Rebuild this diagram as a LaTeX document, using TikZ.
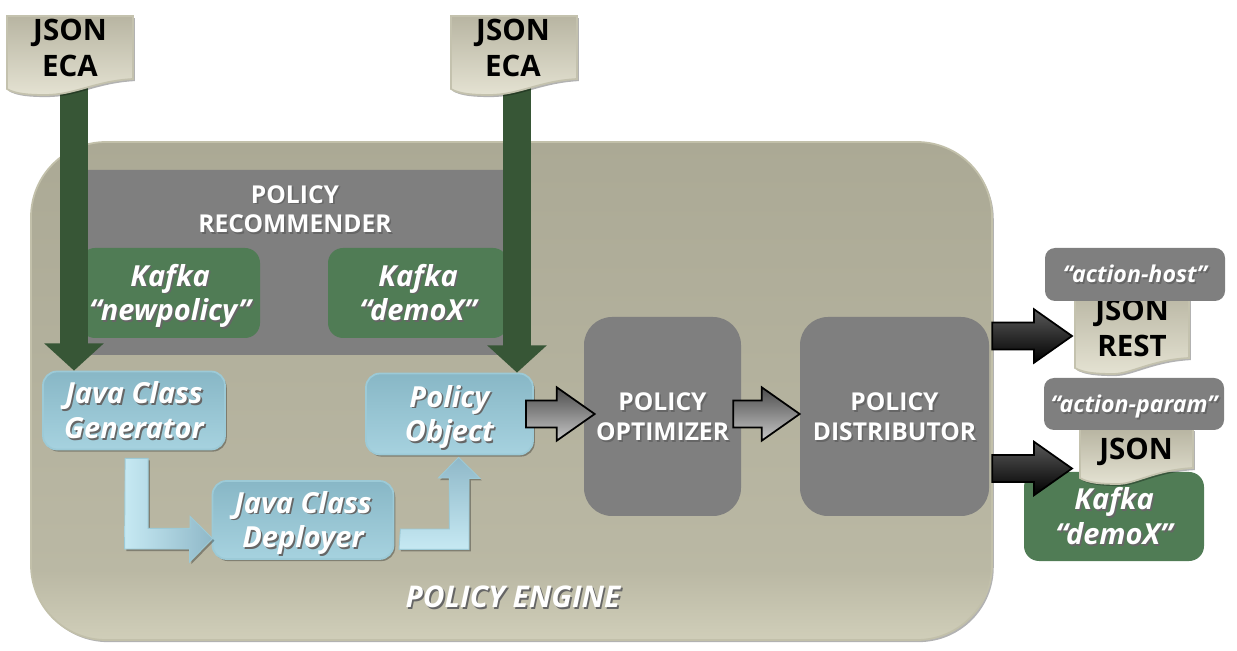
\documentclass[tikz,border=0pt]{standalone}
\usepackage{fontspec}
\setmainfont{Open Sans}
\usetikzlibrary{calc,shadows,arrows.meta}
\definecolor{engineedge}{HTML}{C2C0AA}
\definecolor{boxgray}{HTML}{7F7F7F}
\definecolor{kafkagreen}{HTML}{507C55}
\definecolor{arrowgreen}{HTML}{375636}
\definecolor{bluetop}{HTML}{88B7C6}
\definecolor{bluebot}{HTML}{A6D2DF}
\definecolor{blueedge}{HTML}{9CCAD7}
\definecolor{pale}{HTML}{C6E9F3}
\definecolor{dull}{HTML}{8FB8C8}
\definecolor{doctop}{HTML}{B8B5A2}
\definecolor{docbot}{HTML}{E4E2D2}
\definecolor{docedge}{HTML}{C4C2AE}
\pgfdeclareverticalshading{engineshade}{100bp}{
  rgb(0bp)=(0.816,0.808,0.725);
  rgb(25bp)=(0.816,0.808,0.725);
  rgb(32bp)=(0.730,0.722,0.643);
  rgb(75bp)=(0.671,0.663,0.584);
  rgb(100bp)=(0.671,0.663,0.584)}
\tikzset{
  sized/.style 2 args={minimum width=#1*0.02cm,minimum height=#2*0.02cm,inner sep=0pt},
  softshadow/.style={drop shadow={shadow xshift=1pt,shadow yshift=-1.2pt,opacity=.3,fill=black}},
  headfont/.style={font=\fontsize{14}{17}\selectfont\bfseries,text=white,align=center},
  slantfont/.style={font=\fontsize{16.5}{19.9}\selectfont\bfseries\itshape,text=white,align=center},
  docfont/.style={font=\fontsize{16.8}{20.2}\selectfont\bfseries,text=black,align=center},
  graybox/.style={fill=boxgray,rounded corners=.56cm,headfont},
  kafkabox/.style={fill=kafkagreen,rounded corners=.3cm,slantfont},
  bluebox/.style={top color=bluetop,bottom color=bluebot,draw=blueedge,line width=1pt,rounded corners=.28cm,softshadow,slantfont},
  tagbox/.style={fill=boxgray,rounded corners=.2cm,font=\fontsize{13.2}{16}\selectfont\bfseries\itshape,text=white},
  greenarrow/.style={draw=arrowgreen,line width=16.4pt,-{Triangle[length=15.5pt,width=33pt]}},
  grayarrow/.style={shade,top color=black!70,bottom color=black!22,draw=black,line width=1pt},
  blackarrow/.style={shade,top color=black!65,bottom color=black,draw=black,line width=1pt},
}
\newcommand{\shtext}[1]{\leavevmode\rule[-.1\baselineskip]{0pt}{.8\baselineskip}\smash{\rlap{\raisebox{-1.1pt}{\kern.9pt\textcolor{black!60}{#1}}}#1}}
% straight block arrow, left to right
\newcommand{\blockarrow}[3]{
\path[#1] let \p1=(#2),\p2=(#3) in (\x1,\y1+7.7pt)--(\x2-21.6pt,\y2+7.7pt)--(\x2-21.6pt,\y2+15.2pt)--(\x2,\y2)
--(\x2-21.6pt,\y2-15.2pt)--(\x2-21.6pt,\y2-7.7pt)--(\x1,\y1-7.7pt)--cycle;
}
% page with a wavy lower edge
\newcommand{\docshape}[4]{
\shade[top color=doctop,bottom color=docbot,draw=docedge,line width=1pt,softshadow]
(#1,#2)--(#3,#2)--(#3,#4)
..controls ($(#3,#4)+(-38,2)$) and ($(#3,#4)+(-58,16)$)..($(#1,#4)+(38,16)$)
..controls ($(#1,#4)+(22,16)$) and ($(#1,#4)+(8,15)$)..($(#1,#4)+(0,10)$)--cycle;
}

\begin{document}
\begin{tikzpicture}[x=0.02cm,y=-0.02cm]
\useasboundingbox(0,0)rectangle(1237,651);
%engine
\node[sized={961}{498},shading=engineshade,draw=engineedge,line width=1pt,rounded corners=1.5cm,softshadow](engine)at(511.5,391){};
\node[slantfont,font=\fontsize{17}{20}\selectfont\bfseries\itshape](enginetitle)at(513,597){\shtext{POLICY ENGINE}};
%recommender
\node[sized={460}{185},fill=boxgray,rounded corners=.3cm](recommender)at(295,262.5){};
\node[headfont](rectitle)at(295,209){\shtext{POLICY}\\\shtext{RECOMMENDER}};
\node[sized={180}{90},kafkabox](kafkanew)at(170,293){\shtext{Kafka}\\\shtext{“newpolicy”}};
\node[sized={180}{90},kafkabox](kafkademo)at(418,293){\shtext{Kafka}\\\shtext{“demoX”}};
%java boxes
\node[sized={182}{78},bluebox](generator)at(134,410.5){\shtext{Java Class}\\\shtext{Generator}};
\node[sized={181}{78},bluebox](deployer)at(303,520){\shtext{Java Class}\\\shtext{Deployer}};
\node[sized={167}{81},bluebox](policy)at(449.5,414){\shtext{Policy}\\\shtext{Object}};
%bent arrows
\shade[left color=pale,right color=dull,draw=blueedge,line width=.5pt,softshadow]($(generator.south west)+(83,8)$)--++(23,0)--++(0,70)--++(42,0)--++(0,-12)
--($(deployer.west)+(1,18.5)$)--++(-23,23.5)--++(0,-13)--++(-65,0)--cycle;
\shade[bottom color=pale,top color=dull,draw=blueedge,line width=.5pt,softshadow]($(deployer.east)+(6,9)$)--++(49,0)--++(0,-51)--++(-11,0)
--($(policy.south)+(9,2)$)--++(21.5,21)--++(-11,0)--++(0,71)--++(-70,0)--cycle;
%optimizer and distributor
\node[sized={157}{199},graybox](optimizer)at(662.5,416.5){\shtext{POLICY}\\\shtext{OPTIMIZER}};
\node[sized={189}{199},graybox](distributor)at(894.5,416.5){\shtext{POLICY}\\\shtext{DISTRIBUTOR}};
\coordinate(ecaleft)at(74,85);
\coordinate(ecaright)at(517,85);
\draw[greenarrow](ecaleft)--(generator.north-|ecaleft);
\draw[greenarrow](ecaright)--(policy.north-|ecaright);
%incoming documents
\docshape{7}{16}{133}{79}
\node[docfont](docleft)at(70,48){JSON\\ECA};
\docshape{451}{16}{577}{79}
\node[docfont](docright)at(513,48){JSON\\ECA};
\blockarrow{grayarrow}{$(policy.east)+(-8,0)$}{$(optimizer.west|-policy.east)+(11,0)$}
\blockarrow{grayarrow}{$(optimizer.east|-policy.east)+(-8,0)$}{distributor.west|-policy.east}
%outgoing side
\node[sized={180}{89},kafkabox](kafkaout)at(1114,516.5){\shtext{Kafka}\\\shtext{“demoX”}};
\docshape{1075}{290}{1189}{358}
\node[docfont](docrest)at(1132,328){JSON\\REST};
\node[sized={180}{53},tagbox](taghost)at(1135,274.5){\shtext{“action-host”}};
\docshape{1080}{429}{1193}{468}
\node[docfont](docjson)at(1136,452){JSON};
\node[sized={180}{52},tagbox](tagparam)at(1134,404){\shtext{“action-param”}};
\coordinate(restin)at(1072,336);
\coordinate(jsonin)at(1072,468.5);
\blockarrow{blackarrow}{$(distributor.east|-restin)+(3,0)$}{restin}
\blockarrow{blackarrow}{$(distributor.east|-jsonin)+(3,0)$}{jsonin}
\end{tikzpicture}
\end{document}
